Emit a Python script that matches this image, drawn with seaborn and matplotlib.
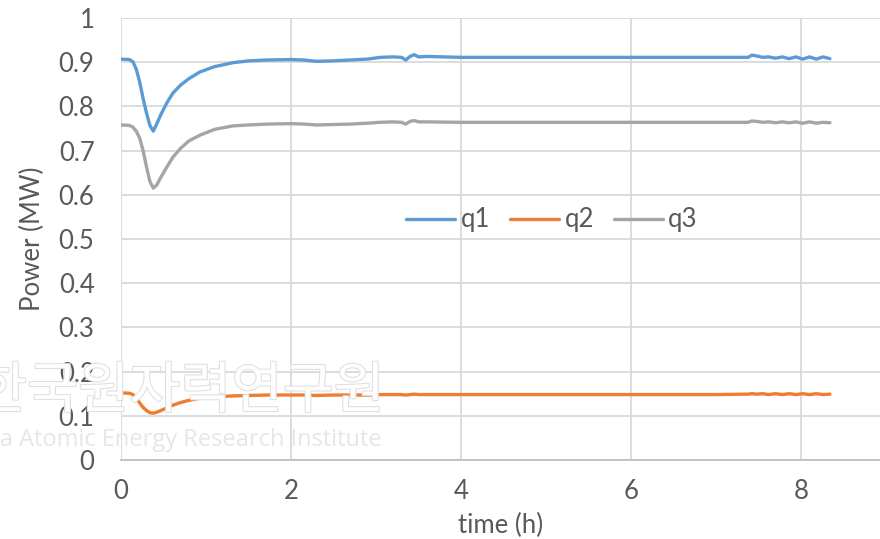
import matplotlib
matplotlib.use("Agg")
import matplotlib.pyplot as plt
import matplotlib.patheffects as pe
import seaborn as sns
import pandas as pd

time_h = [0, 0.1, 0.14, 0.18, 0.22, 0.26, 0.30, 0.34, 0.38, 0.42,
          0.47, 0.54, 0.61, 0.70, 0.80, 0.93, 1.1, 1.32, 1.5, 1.72,
          2.0, 2.15, 2.3, 2.5, 2.7, 2.9, 3.05, 3.2, 3.3, 3.35,
          3.4, 3.45, 3.5, 3.6, 4.0, 5.0, 6.0, 7.0, 7.38, 7.42,
          7.48, 7.55, 7.62, 7.7, 7.78, 7.86, 7.94, 8.02, 8.1, 8.18,
          8.26, 8.34]
q1 = [0.907, 0.906, 0.901, 0.884, 0.855, 0.818, 0.785, 0.757, 0.744, 0.760,
      0.782, 0.808, 0.830, 0.848, 0.863, 0.878, 0.890, 0.899, 0.903, 0.905,
      0.906, 0.905, 0.902, 0.903, 0.905, 0.907, 0.911, 0.912, 0.911, 0.905,
      0.913, 0.917, 0.912, 0.913, 0.911, 0.911, 0.911, 0.911, 0.911, 0.916,
      0.914, 0.911, 0.912, 0.909, 0.912, 0.908, 0.912, 0.907, 0.912, 0.907,
      0.912, 0.908]
q2 = [0.152, 0.151, 0.148, 0.140, 0.129, 0.119, 0.112, 0.107, 0.106, 0.108,
      0.112, 0.118, 0.124, 0.130, 0.135, 0.140, 0.143, 0.145, 0.146, 0.147,
      0.147, 0.147, 0.146, 0.147, 0.147, 0.147, 0.148, 0.148, 0.148, 0.147,
      0.148, 0.149, 0.148, 0.148, 0.148, 0.148, 0.148, 0.148, 0.149, 0.150,
      0.149, 0.150, 0.148, 0.150, 0.148, 0.150, 0.148, 0.150, 0.148, 0.150,
      0.148, 0.149]
q3 = [0.758, 0.757, 0.753, 0.744, 0.728, 0.700, 0.663, 0.630, 0.615, 0.622,
      0.640, 0.663, 0.685, 0.705, 0.722, 0.735, 0.748, 0.756, 0.758, 0.760,
      0.761, 0.760, 0.758, 0.759, 0.760, 0.762, 0.764, 0.765, 0.764, 0.760,
      0.766, 0.768, 0.765, 0.765, 0.764, 0.764, 0.764, 0.764, 0.764, 0.767,
      0.766, 0.764, 0.765, 0.763, 0.765, 0.763, 0.765, 0.762, 0.765, 0.762,
      0.764, 0.763]
series_names = ["q1", "q2", "q3"]
x_ticks = [0, 2, 4, 6, 8]
y_ticks = [0, 0.1, 0.2, 0.3, 0.4, 0.5, 0.6, 0.7, 0.8, 0.9, 1]
y_tick_labels = ["0", "0.1", "0.2", "0.3", "0.4", "0.5", "0.6", "0.7", "0.8", "0.9", "1"]

df = pd.concat([
    pd.DataFrame({"time": time_h, "power": vals, "series": name})
    for name, vals in zip(series_names, [q1, q2, q3])
], ignore_index=True)

sns.set_theme(style="white")
plt.rcParams["font.family"] = ["Lato", "DejaVu Sans"]

FS = 18.5
TXT = "#595959"

fig = plt.figure(figsize=(8.8, 5.39), dpi=100)
ax = fig.add_axes([121/880, 1-460/539, 1-121/880, (460-18)/539])

# faint watermark (outlined, partially cut off at the left like the source)
fig.text(385/880, 1-392/539, "한국원자력연구원", ha="right", va="center",
         fontsize=40, color="white", family=["Noto Sans CJK KR"], zorder=0,
         path_effects=[pe.withStroke(linewidth=1.6, foreground="#e0e0e0")])
fig.text(382/880, 1-440/539, "Korea Atomic Energy Research Institute", ha="right",
         va="center", fontsize=17, color="#e6e6e6", family=["Open Sans"], zorder=0)

palette = {"q1": "#5B9BD5", "q2": "#ED7D31", "q3": "#A5A5A5"}
sns.lineplot(data=df, x="time", y="power", hue="series", palette=palette,
             linewidth=2.4, ax=ax, legend=True)

ax.set_xlim(0, 759/85)
ax.set_ylim(0, 1)
ax.set_xticks(x_ticks)
ax.set_xticklabels([str(v) for v in x_ticks])
ax.set_yticks(y_ticks)
ax.set_yticklabels(y_tick_labels)
ax.patch.set_alpha(0)
ax.grid(True, color="#d9d9d9", linewidth=1.3)
ax.set_axisbelow(True)
for s in ["top", "right", "left"]:
    ax.spines[s].set_visible(False)
ax.spines["bottom"].set_color("#bfbfbf")
ax.spines["bottom"].set_linewidth(1.3)
ax.tick_params(axis="both", length=0, labelsize=FS, colors=TXT)
ax.tick_params(axis="x", pad=14)
ax.tick_params(axis="y", pad=19)
ax.set_xlabel("time (h)", fontsize=FS, color=TXT, labelpad=6)
ax.set_ylabel("Power (MW)", fontsize=FS, color=TXT, labelpad=10)

leg = ax.legend(loc="center", bbox_to_anchor=(0.568, 0.543), ncol=3, frameon=False,
                fontsize=FS, handlelength=1.9, handletextpad=0.2, columnspacing=0.8)
for t in leg.get_texts():
    t.set_color(TXT)

fig.savefig("out.png", dpi=100)
